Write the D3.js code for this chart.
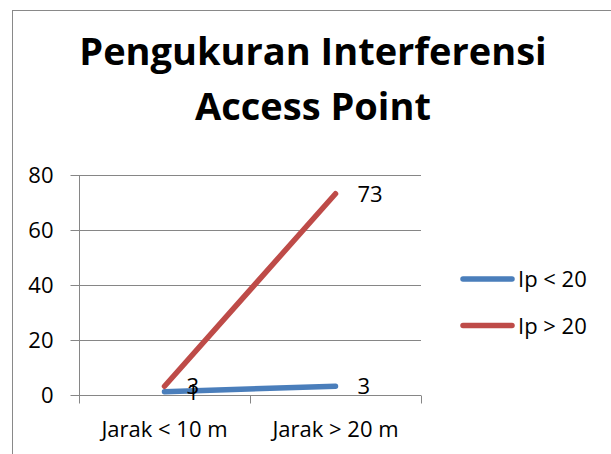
<!DOCTYPE html>
<html>
<head>
<meta charset="utf-8">
<script src="https://cdn.jsdelivr.net/npm/d3@7"></script>
<style>
  body { margin: 0; background: #fff; }
  svg { display: block; font-family: "Open Sans", sans-serif; }
</style>
</head>
<body>
<svg width="611" height="454"></svg>
<script>
// chart data
var categories = ["Jarak < 10 m", "Jarak > 20 m"];
var seriesNames = ["Ip < 20", "Ip > 20"];
var ipBelow20 = [1, 3];
var ipAbove20 = [3, 73];
var yTicks = [0, 20, 40, 60, 80];
var colors = ["#4A7EBB", "#BE4B48"];

var series = [
  { name: seriesNames[0], values: ipBelow20, color: colors[0] },
  { name: seriesNames[1], values: ipAbove20, color: colors[1] }
];

var labelFont = 22;

var svg = d3.select("svg");

// outer frame
svg.append("rect")
   .attr("x", 12.5).attr("y", 10.5)
   .attr("width", 700).attr("height", 500)
   .attr("fill", "#fff")
   .attr("stroke", "#898989")
   .attr("stroke-width", 1);

// title
var title = svg.append("text")
   .attr("text-anchor", "middle")
   .attr("font-weight", "bold")
   .attr("font-size", 38)
   .attr("fill", "#000");
title.append("tspan").attr("x", 313).attr("y", 65).text("Pengukuran Interferensi");
title.append("tspan").attr("x", 313).attr("y", 120).text("Access Point");

var margin = { left: 79, top: 174.5, right: 421, bottom: 394.5 };

var x = d3.scaleBand()
          .domain(categories)
          .range([margin.left, margin.right]);

var y = d3.scaleLinear()
          .domain([0, 80])
          .range([margin.bottom, margin.top]);

// gridlines
svg.append("g")
   .selectAll("line")
   .data(yTicks.filter(function(d) { return d > 0; }))
   .join("line")
   .attr("x1", margin.left).attr("x2", margin.right)
   .attr("y1", function(d) { return Math.round(y(d)) + 0.5; })
   .attr("y2", function(d) { return Math.round(y(d)) + 0.5; })
   .attr("stroke", "#868686")
   .attr("stroke-width", 1);

// y axis
var yAxis = svg.append("g")
   .attr("transform", "translate(" + (margin.left + 0.5) + ",0.5)")
   .call(d3.axisLeft(y).tickValues(yTicks).tickSize(9).tickPadding(17));
yAxis.selectAll("text").attr("font-size", labelFont).attr("fill", "#000")
     .attr("font-family", "'Open Sans', sans-serif");
yAxis.selectAll("line, path").attr("stroke", "#868686");
yAxis.select(".domain").attr("d", "M0," + y(80) + "V" + y(0));

// x axis
var xAxis = svg.append("g")
   .attr("transform", "translate(0," + (Math.round(y(0)) + 0.5) + ")");
xAxis.append("line")
   .attr("x1", margin.left).attr("x2", margin.right)
   .attr("stroke", "#868686");
xAxis.selectAll(".tick")
   .data([margin.left, margin.left + x.bandwidth(), margin.right])
   .join("line")
   .attr("class", "tick")
   .attr("x1", function(d) { return Math.round(d) + 0.5; })
   .attr("x2", function(d) { return Math.round(d) + 0.5; })
   .attr("y1", 0).attr("y2", 8)
   .attr("stroke", "#868686");
xAxis.selectAll("text")
   .data(categories)
   .join("text")
   .attr("x", function(d) { return x(d) + x.bandwidth() / 2; })
   .attr("y", 41)
   .attr("text-anchor", "middle")
   .attr("font-size", labelFont)
   .attr("fill", "#000")
   .text(function(d) { return d; });

var line = d3.line()
   .x(function(d, i) { return x(categories[i]) + x.bandwidth() / 2; })
   .y(function(d) { return y(d); });

svg.append("g")
   .selectAll("path")
   .data(series)
   .join("path")
   .attr("fill", "none")
   .attr("stroke", function(d) { return d.color; })
   .attr("stroke-width", 5.5)
   .attr("stroke-linecap", "round")
   .attr("stroke-linejoin", "round")
   .attr("d", function(d) { return line(d.values); });

// data labels
series.forEach(function(s) {
  svg.append("g")
     .selectAll("text")
     .data(s.values)
     .join("text")
     .attr("x", function(d, i) { return x(categories[i]) + x.bandwidth() / 2 + 22; })
     .attr("y", function(d) { return y(d) + 8; })
     .attr("font-size", labelFont)
     .attr("fill", "#000")
     .text(function(d) { return d; });
});

// legend
var legend = svg.append("g")
   .selectAll("g")
   .data(series)
   .join("g")
   .attr("transform", function(d, i) { return "translate(0," + (279 + i * 46.5) + ")"; });
legend.append("line")
   .attr("x1", 463).attr("x2", 512)
   .attr("stroke", function(d) { return d.color; })
   .attr("stroke-width", 5.5)
   .attr("stroke-linecap", "round");
legend.append("text")
   .attr("x", 518).attr("y", 8)
   .attr("font-size", labelFont)
   .attr("fill", "#000")
   .text(function(d) { return d.name; });
</script>
</body>
</html>
